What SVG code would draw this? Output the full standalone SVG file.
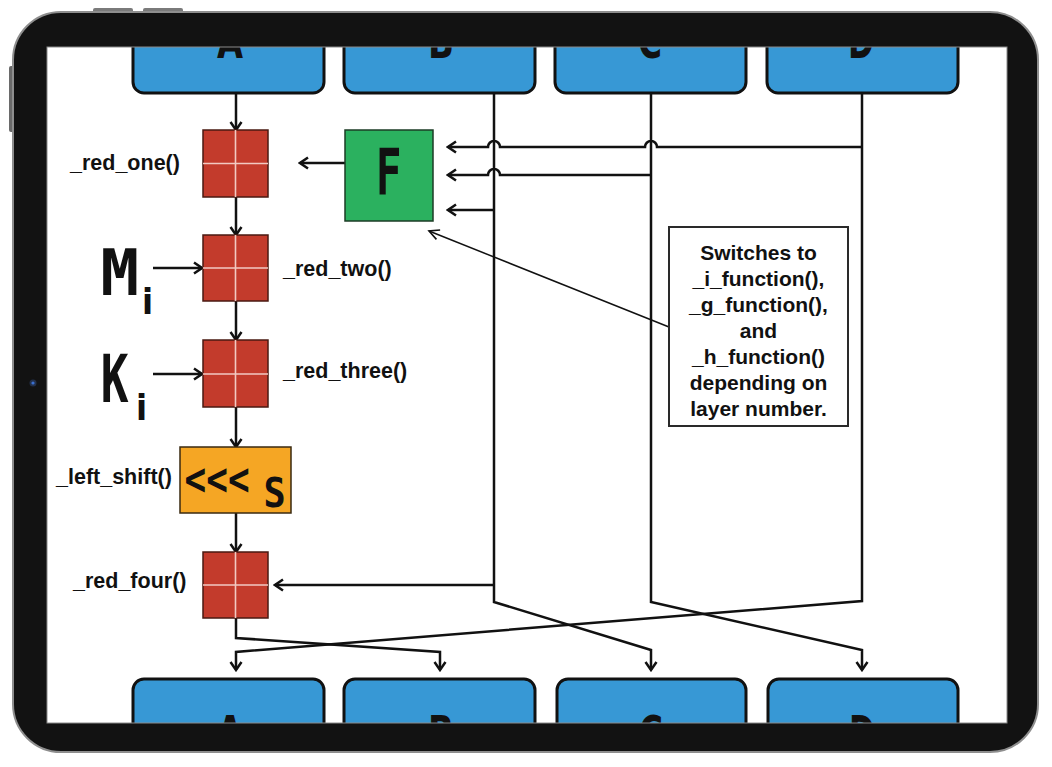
<svg xmlns="http://www.w3.org/2000/svg" width="1052" height="767" viewBox="0 0 1052 767">
<defs>
<style>
.ln{stroke:#111;stroke-width:2.5;fill:none;stroke-linejoin:miter}
.thin{stroke:#111;stroke-width:1.5;fill:none}
.blue{fill:#3798d5;stroke:#111;stroke-width:3}
.red{fill:#c33b2c;stroke:#4a1a12;stroke-width:1.5}
.crs{stroke:#f2c9c2;stroke-width:1.6}
.lbl{font-family:"Liberation Sans",Arial,sans-serif;font-weight:bold;font-size:21.5px;fill:#111}
.big{font-family:"DejaVu Sans Condensed","DejaVu Sans",sans-serif;font-weight:bold;fill:#111}
.mono{font-family:"DejaVu Sans Mono",monospace;font-weight:bold;fill:#111}
.call{font-family:"Liberation Sans",Arial,sans-serif;font-weight:bold;font-size:21px;fill:#111;text-anchor:middle}
</style>
<clipPath id="scr"><rect x="47" y="47" width="960" height="676"/></clipPath>
<marker id="ah" viewBox="-10 -7 12 14" refX="0" refY="0" markerWidth="12" markerHeight="14" markerUnits="userSpaceOnUse" orient="auto">
<path d="M-8,-5.5 L0,0 L-8,5.5" fill="none" stroke="#111" stroke-width="2.5"/>
</marker>
<marker id="ahs" viewBox="-12 -7 14 14" refX="0" refY="0" markerWidth="14" markerHeight="14" markerUnits="userSpaceOnUse" orient="auto">
<path d="M-10,-5 L0,0 L-10,5" fill="none" stroke="#111" stroke-width="1.6"/>
</marker>
</defs>
<rect x="0" y="0" width="1052" height="767" fill="#ffffff"/>

<g id="screen" clip-path="url(#scr)">
<g id="top-boxes">
<g id="top-A"><rect class="blue" x="133" y="0" width="191" height="93" rx="11"/><text class="big" x="230" y="58" font-size="48" text-anchor="middle" textLength="26" lengthAdjust="spacingAndGlyphs">A</text></g>
<g id="top-B"><rect class="blue" x="344" y="0" width="191" height="93" rx="11"/><text class="big" x="441" y="58" font-size="48" text-anchor="middle" textLength="26" lengthAdjust="spacingAndGlyphs">B</text></g>
<g id="top-C"><rect class="blue" x="555" y="0" width="191" height="93" rx="11"/><text class="big" x="650" y="58" font-size="48" text-anchor="middle" textLength="24" lengthAdjust="spacingAndGlyphs">C</text></g>
<g id="top-D"><rect class="blue" x="767" y="0" width="191" height="93" rx="11"/><text class="big" x="861" y="58" font-size="48" text-anchor="middle" textLength="26" lengthAdjust="spacingAndGlyphs">D</text></g>
</g>

<g id="bottom-boxes">
<g id="bot-A"><rect class="blue" x="133" y="679" width="191" height="90" rx="11"/><text class="big" x="230" y="750" font-size="48" text-anchor="middle" textLength="26" lengthAdjust="spacingAndGlyphs">A</text></g>
<g id="bot-B"><rect class="blue" x="344" y="679" width="191" height="90" rx="11"/><text class="big" x="441" y="750" font-size="48" text-anchor="middle" textLength="26" lengthAdjust="spacingAndGlyphs">B</text></g>
<g id="bot-C"><rect class="blue" x="557" y="679" width="189" height="90" rx="11"/><text class="big" x="651" y="750" font-size="48" text-anchor="middle" textLength="24" lengthAdjust="spacingAndGlyphs">C</text></g>
<g id="bot-D"><rect class="blue" x="768" y="679" width="190" height="90" rx="11"/><text class="big" x="862" y="750" font-size="48" text-anchor="middle" textLength="26" lengthAdjust="spacingAndGlyphs">D</text></g>
</g>

<g id="connectors">
<path class="ln" d="M236,93 V130" marker-end="url(#ah)"/>
<path class="ln" d="M236,197 V235" marker-end="url(#ah)"/>
<path class="ln" d="M236,301 V340" marker-end="url(#ah)"/>
<path class="ln" d="M236,407 V447" marker-end="url(#ah)"/>
<path class="ln" d="M236,513 V552" marker-end="url(#ah)"/>
<path class="ln" d="M345,163 H300" marker-end="url(#ah)"/>
<path class="ln" d="M153,268 H202" marker-end="url(#ah)"/>
<path class="ln" d="M153,374 H202" marker-end="url(#ah)"/>
<path class="ln" d="M862,93 V601 L236,652 V670" marker-end="url(#ah)"/>
<path class="ln" d="M862,147 H657 a6,6 0 0 0 -12,0 H500 a6,6 0 0 0 -12,0 H448" marker-end="url(#ah)"/>
<path class="ln" d="M651,93 V602 L862,650 V670" marker-end="url(#ah)"/>
<path class="ln" d="M651,175 H500 a6,6 0 0 0 -12,0 H448" marker-end="url(#ah)"/>
<path class="ln" d="M494,93 V602 L651,650 V670" marker-end="url(#ah)"/>
<path class="ln" d="M494,210 H448" marker-end="url(#ah)"/>
<path class="ln" d="M494,585 H275" marker-end="url(#ah)"/>
<path class="ln" d="M236,618 V638 L440,652 V670" marker-end="url(#ah)"/>
<path class="thin" d="M669,327 L429,231" marker-end="url(#ahs)"/>
</g>

<g id="red-one"><rect class="red" x="203" y="130" width="65" height="67"/><path class="crs" d="M235.5,130 V197 M203,163.5 H268"/><text class="lbl" x="70" y="170">_red_one()</text></g>
<g id="red-two"><rect class="red" x="203" y="235" width="65" height="66"/><path class="crs" d="M235.5,235 V301 M203,268 H268"/><text class="lbl" x="283" y="276">_red_two()</text></g>
<g id="red-three"><rect class="red" x="203" y="340" width="65" height="67"/><path class="crs" d="M235.5,340 V407 M203,374 H268"/><text class="lbl" x="283" y="378">_red_three()</text></g>
<g id="left-shift"><rect x="180" y="447" width="111" height="66" fill="#f5a624" stroke="#3a2a10" stroke-width="1.5"/>
<text class="mono" font-size="46" transform="translate(184.5,494.5) scale(0.785,1)">&lt;&lt;&lt;</text>
<text class="mono" font-size="41" transform="translate(263.5,507) scale(0.9,1)">S</text>
<text class="lbl" x="56" y="484">_left_shift()</text></g>
<g id="red-four"><rect class="red" x="203" y="552" width="65" height="66"/><path class="crs" d="M235.5,552 V618 M203,585 H268"/><text class="lbl" x="73" y="588">_red_four()</text></g>
<g id="F"><rect x="345" y="130" width="88" height="91" fill="#2bb15f" stroke="#1d3d26" stroke-width="1.5"/><text class="mono" font-size="64" transform="translate(375.7,194) scale(0.67,1)">F</text></g>
<g id="Mi"><text class="mono" font-size="64" transform="translate(100.5,295)">M</text><text class="big" x="142" y="314" font-size="36">i</text></g>
<g id="Ki"><text class="mono" font-size="66" transform="translate(100.7,402) scale(0.7,1)">K</text><text class="big" x="136" y="420" font-size="36">i</text></g>
<g id="callout"><rect x="669" y="227" width="179" height="199" fill="#fff" stroke="#2a2a2a" stroke-width="2"/>
<text class="call" x="758.5" y="260">Switches to</text>
<text class="call" x="758.5" y="286">_i_function(),</text>
<text class="call" x="758.5" y="312">_g_function(),</text>
<text class="call" x="758.5" y="338">and</text>
<text class="call" x="758.5" y="364">_h_function()</text>
<text class="call" x="758.5" y="390">depending on</text>
<text class="call" x="758.5" y="416">layer number.</text>
</g>
</g>

<g id="tablet">
<rect x="93" y="8" width="40" height="6" rx="2" fill="#7a7a7a"/>
<rect x="143" y="8" width="40" height="6" rx="2" fill="#7a7a7a"/>
<rect x="9" y="66" width="6" height="66" rx="2" fill="#6a6a6a"/>
<path d="M61,12 H990 A48,48 0 0 1 1038,60 V704 A48,48 0 0 1 990,752 H61 A48,48 0 0 1 13,704 V60 A48,48 0 0 1 61,12 Z M47,47 V723 H1007 V47 Z" fill="#121212" fill-rule="evenodd"/>
<rect x="13" y="12" width="1025" height="740" rx="48" fill="none" stroke="#8e8e8e" stroke-width="2"/>
<rect x="47" y="47" width="960" height="676" fill="none" stroke="#8a8a8a" stroke-width="1"/>
<circle cx="33" cy="383" r="3.5" fill="#23304a"/>
<circle cx="33" cy="383" r="1.6" fill="#3a6fd0"/>
</g>
</svg>
